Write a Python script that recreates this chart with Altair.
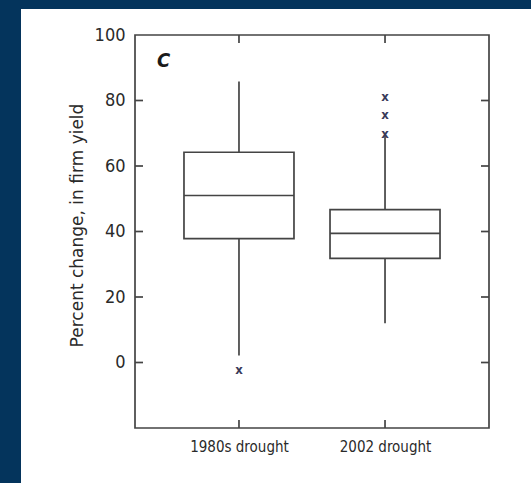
import altair as alt
import pandas as pd

# ---- data ----
categories = ["1980s drought", "2002 drought"]
whisker_low = [2.1, 12.0]
q1 = [37.8, 31.8]
median = [51.0, 39.4]
q3 = [64.2, 46.7]
whisker_high = [85.8, 69.9]
outlier_cat = ["1980s drought", "2002 drought", "2002 drought", "2002 drought"]
outlier_val = [-2.2, 69.9, 75.6, 81.2]
y_ticks = [0, 20, 40, 60, 80, 100]
panel_label = "C"
y_title = "Percent change, in firm yield"

W, H = 354, 393
NAVY = "#04345c"
LINE = "#444444"
NARROW = "Liberation Sans Narrow, DejaVu Sans Condensed, sans-serif"

box_df = pd.DataFrame({"cat": categories, "lo": whisker_low, "q1": q1,
                       "med": median, "q3": q3, "hi": whisker_high})
out_df = pd.DataFrame({"cat": outlier_cat, "value": outlier_val, "mark": ["x"] * len(outlier_val)})
ytick_df = pd.DataFrame({"value": y_ticks[:-1]})
xtick_df = pd.DataFrame({"cat": categories})

xscale = alt.Scale(type="point", padding=0.712, domain=categories)
yscale = alt.Scale(domain=[-20, 100], nice=False, zero=False)

X = alt.X("cat:N", scale=xscale,
          axis=alt.Axis(title=None, domain=False, ticks=False, labelAngle=0,
                        labelPadding=11, labelFont=NARROW, labelFontSize=15,
                        labelColor="#2a2a2a", zindex=1))

# white panel behind everything (decoration)
panel = alt.Chart(xtick_df.head(1)).mark_rect(color="white", clip=False).encode(
    x=alt.value(-114), x2=alt.value(396), y=alt.value(-26), y2=alt.value(448))

whiskers = alt.Chart(box_df).mark_rule(color=LINE, strokeWidth=1.7).encode(
    x=X,
    y=alt.Y("lo:Q", scale=yscale,
            axis=alt.Axis(values=y_ticks, title=y_title, domain=False, ticks=False,
                          grid=False, labelPadding=10, labelFont=NARROW,
                          labelFontSize=18, labelColor="#2a2a2a",
                          titleFont="DejaVu Sans", titleFontSize=17,
                          titleFontWeight="normal", titleColor="#2a2a2a",
                          titleX=-49, titleY=190, zindex=1)),
    y2="hi:Q")

boxes = alt.Chart(box_df).mark_bar(size=110, fill="white", stroke=LINE,
                                   strokeWidth=1.7).encode(
    x="cat:N", y=alt.Y("q1:Q", scale=yscale), y2="q3:Q")

medians = alt.Chart(box_df).mark_tick(size=110, thickness=1.7, color=LINE,
                                      opacity=1).encode(
    x="cat:N", y=alt.Y("med:Q", scale=yscale))

outliers = alt.Chart(out_df).mark_text(font=NARROW, fontSize=13, fontWeight="bold",
                                       color="#3a3a5a", baseline="middle").encode(
    x="cat:N", y=alt.Y("value:Q", scale=yscale), text="mark:N")

# frame and inward ticks
frame = alt.Chart(xtick_df.head(1)).mark_rect(fillOpacity=0, stroke=LINE,
                                              strokeWidth=1.7).encode(
    x=alt.value(0), x2=alt.value(W), y=alt.value(0), y2=alt.value(H))

tick_l = alt.Chart(ytick_df).mark_rule(color=LINE, strokeWidth=1.7).encode(
    y=alt.Y("value:Q", scale=yscale), x=alt.value(0), x2=alt.value(8))
tick_r = alt.Chart(ytick_df).mark_rule(color=LINE, strokeWidth=1.7).encode(
    y=alt.Y("value:Q", scale=yscale), x=alt.value(W - 8), x2=alt.value(W))
tick_t = alt.Chart(xtick_df).mark_rule(color=LINE, strokeWidth=1.7).encode(
    x="cat:N", y=alt.value(0), y2=alt.value(8))
tick_b = alt.Chart(xtick_df).mark_rule(color=LINE, strokeWidth=1.7).encode(
    x="cat:N", y=alt.value(H - 8), y2=alt.value(H))

label = alt.Chart(xtick_df.head(1)).mark_text(
    text=panel_label, font=NARROW, fontSize=20, fontWeight="bold", fontStyle="italic",
    color="#1a1a1a", align="left", baseline="alphabetic").encode(
    x=alt.value(22), y=alt.value(32))

chart = alt.layer(panel, whiskers, boxes, medians, outliers, frame,
                  tick_l, tick_r, tick_t, tick_b, label).properties(
    width=W, height=H,
    autosize=alt.AutoSizeParams(type="none"),
    padding={"left": 135, "top": 35, "right": 42, "bottom": 55},
    background=NAVY,
).configure_view(stroke="transparent")

chart.save("out.html", embed_options={"renderer": "svg", "actions": False})
